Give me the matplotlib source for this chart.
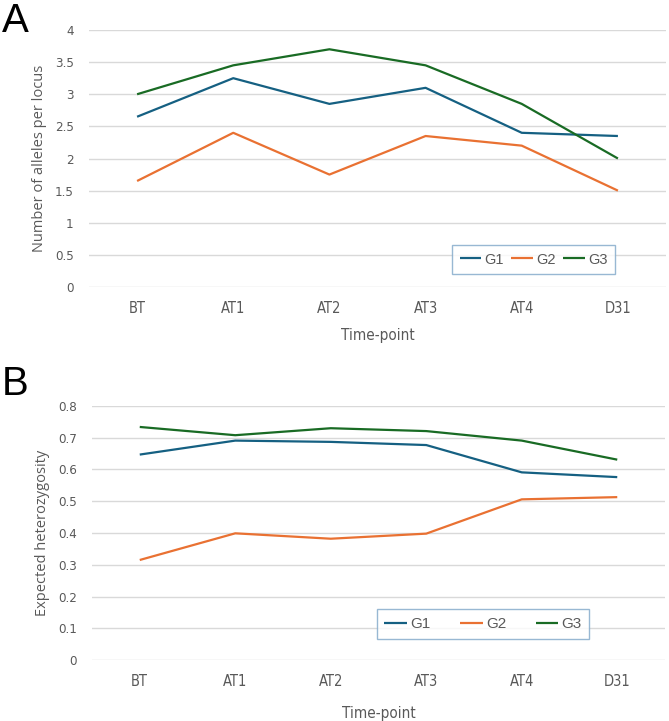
import matplotlib
matplotlib.use('Agg')
import matplotlib.pyplot as plt

# time points and series values
timepoints = ['BT', 'AT1', 'AT2', 'AT3', 'AT4', 'D31']
groups = ['G1', 'G2', 'G3']

alleles_g1 = [2.65, 3.25, 2.85, 3.10, 2.40, 2.35]
alleles_g2 = [1.65, 2.40, 1.75, 2.35, 2.20, 1.50]
alleles_g3 = [3.00, 3.45, 3.70, 3.45, 2.85, 2.00]

het_g1 = [0.647, 0.691, 0.687, 0.677, 0.591, 0.576]
het_g2 = [0.315, 0.399, 0.382, 0.398, 0.506, 0.513]
het_g3 = [0.734, 0.708, 0.730, 0.721, 0.691, 0.631]

colors = ['#156082', '#E97132', '#196B24']
text_col = '#595959'
cond = dict(family='DejaVu Sans', stretch='condensed')


def draw_panel(ax, series, ylim, ystep, ylabel, legend_box, colspace, xpad, legsize):
    x = list(range(len(timepoints)))
    for vals, name, c in zip(series, groups, colors):
        ax.plot(x, vals, color=c, linewidth=1.6, label=name, solid_capstyle='butt')
    ax.set_xlim(-0.5, len(timepoints) - 0.5)
    ax.set_ylim(*ylim)
    n = int(round((ylim[1] - ylim[0]) / ystep))
    ticks = [ylim[0] + i * ystep for i in range(n + 1)]
    ax.set_yticks(ticks)
    ax.set_yticklabels([f'{t:g}' for t in ticks], fontsize=9.5, color=text_col, **cond)
    ax.set_xticks(x)
    ax.set_xticklabels(timepoints, fontsize=10.5, color=text_col, **cond)
    ax.tick_params(length=0, axis='y', pad=11)
    ax.tick_params(length=0, axis='x', pad=10)
    ax.grid(True, axis='y', color='#d9d9d9', linewidth=1)
    ax.set_axisbelow(True)
    for s in ax.spines.values():
        s.set_visible(False)
    ax.set_ylabel(ylabel, fontsize=10.5, color=text_col, family='Open Sans', labelpad=6)
    ax.set_xlabel('Time-point', fontsize=11, color=text_col, labelpad=xpad, **cond)
    leg = ax.legend(loc='center', bbox_to_anchor=legend_box, bbox_transform=ax.figure.transFigure,
                    ncol=3, frameon=True, fancybox=False, handlelength=1.5, handletextpad=0.2,
                    columnspacing=colspace, prop={'family': 'Liberation Sans', 'size': legsize},
                    borderpad=0.5, mode='expand')
    leg.get_frame().set_edgecolor('#7fa7c9')
    leg.get_frame().set_linewidth(1)
    for t in leg.get_texts():
        t.set_color(text_col)


fig = plt.figure(figsize=(6.69, 7.21), dpi=100)

axA = fig.add_axes([89 / 669, 1 - 287 / 721, (666 - 89) / 669, (287 - 30) / 721])
draw_panel(axA, [alleles_g1, alleles_g2, alleles_g3], (0, 4), 0.5,
           'Number of alleles per locus',
           (445 / 669, 1 - 276 / 721, 177 / 669, 33 / 721), 1.2, 9, 10.5)

axB = fig.add_axes([92 / 669, 1 - 660 / 721, (665 - 92) / 669, (660 - 406) / 721])
draw_panel(axB, [het_g1, het_g2, het_g3], (0, 0.8), 0.1,
           'Expected heterozygosity',
           (369 / 669, 1 - 638 / 721, 228 / 669, 28 / 721), 3.0, 12, 11)

fig.text(2 / 669, 1 - 2 / 721, 'A', fontsize=29, family='Liberation Sans', va='top', ha='left', color='black')
fig.text(2 / 669, 1 - 365 / 721, 'B', fontsize=29, family='Liberation Sans', va='top', ha='left', color='black')

fig.savefig('out.png', dpi=100)
